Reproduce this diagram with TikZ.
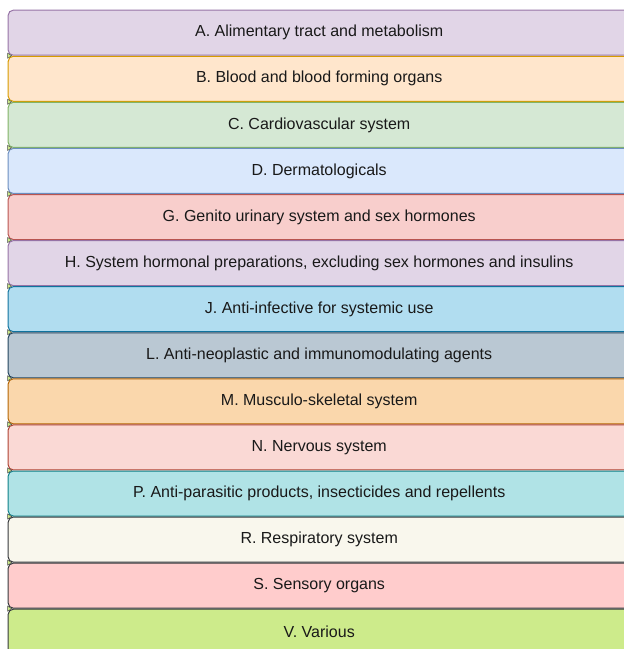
\documentclass[tikz,border=0pt]{standalone}
\usepackage{fontspec}
\setmainfont{Liberation Sans}
\usetikzlibrary{matrix,positioning}

\definecolor{fillA}{HTML}{E1D5E7} \definecolor{lineA}{HTML}{9673A6}
\definecolor{fillB}{HTML}{FFE6CC} \definecolor{lineB}{HTML}{D79B00}
\definecolor{fillC}{HTML}{D5E8D4} \definecolor{lineC}{HTML}{82B366}
\definecolor{fillD}{HTML}{DAE8FC} \definecolor{lineD}{HTML}{6C8EBF}
\definecolor{fillG}{HTML}{F8CECC} \definecolor{lineG}{HTML}{B85450}
\definecolor{fillJ}{HTML}{B1DDF0} \definecolor{lineJ}{HTML}{10739E}
\definecolor{fillL}{HTML}{BAC8D3} \definecolor{lineL}{HTML}{23445D}
\definecolor{fillM}{HTML}{FAD7AC} \definecolor{lineM}{HTML}{B46504}
\definecolor{fillN}{HTML}{FAD9D5} \definecolor{lineN}{HTML}{AE4132}
\definecolor{fillP}{HTML}{B0E3E6} \definecolor{lineP}{HTML}{0E8088}
\definecolor{fillR}{HTML}{F9F7ED} \definecolor{lineR}{HTML}{36393D}
\definecolor{fillS}{HTML}{FFCCCC}
\definecolor{fillV}{HTML}{CDEB8B}
\definecolor{tipfill}{HTML}{CDEB8B}

\tikzset{
  atc/.style={draw, line width=1pt, rounded corners=5pt, minimum width=622pt,
    minimum height=45pt, text=black!90, font=\fontsize{16}{18}\selectfont},
  catA/.style={atc, fill=fillA, draw=lineA},
  catB/.style={atc, fill=fillB, draw=lineB},
  catC/.style={atc, fill=fillC, draw=lineC},
  catD/.style={atc, fill=fillD, draw=lineD},
  catG/.style={atc, fill=fillG, draw=lineG},
  catJ/.style={atc, fill=fillJ, draw=lineJ},
  catL/.style={atc, fill=fillL, draw=lineL},
  catM/.style={atc, fill=fillM, draw=lineM},
  catN/.style={atc, fill=fillN, draw=lineN},
  catP/.style={atc, fill=fillP, draw=lineP},
  catR/.style={atc, fill=fillR, draw=lineR},
  catS/.style={atc, fill=fillS, draw=lineR},
  catV/.style={atc, fill=fillV, draw=lineR},
  joint/.style={fill=tipfill, draw=black!70, line width=0.5pt}
}

\begin{document}
\begin{tikzpicture}
  \useasboundingbox (0,0) rectangle (624pt,-649pt);
  \matrix (m) [matrix of nodes, row sep=0.08pt, anchor=north west, inner sep=0pt]
    at (7.5pt,-9.5pt)
  {
 |[catA]| A. Alimentary tract and metabolism \\
 |[catB]| B. Blood and blood forming organs \\
 |[catC]| C. Cardiovascular system \\
 |[catD]| D. Dermatologicals \\
 |[catG]| G. Genito urinary system and sex hormones \\
 |[catA]| H. System hormonal preparations, excluding sex hormones and insulins \\
 |[catJ]| J. Anti-infective for systemic use \\
 |[catL]| L. Anti-neoplastic and immunomodulating agents \\
 |[catM]| M. Musculo-skeletal system \\
 |[catN]| N. Nervous system \\
 |[catP]| P. Anti-parasitic products, insecticides and repellents \\
 |[catR]| R. Respiratory system \\
 |[catS]| S. Sensory organs \\
 |[catV]| V. Various \\ };
  % small tips where the boxes meet
  \foreach \i in {1,...,13}
    \filldraw[joint] (m-\i-1.south west) ++(0,2.5pt) -- ++(4pt,-2.5pt) -- ++(-4pt,-2.5pt) -- cycle;
\end{tikzpicture}
\end{document}
